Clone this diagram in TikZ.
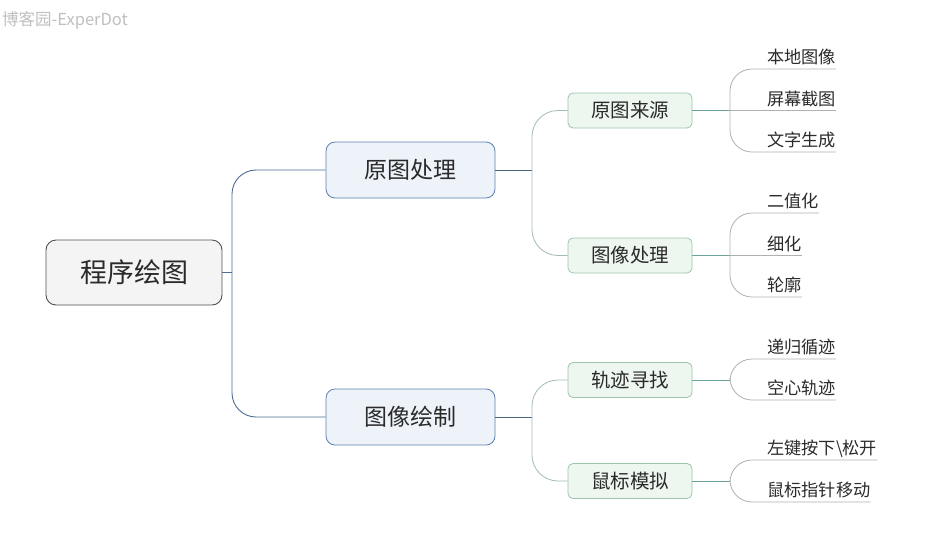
\documentclass[tikz,border=0pt]{standalone}
\usepackage{fontspec}
\newfontfamily\cjk{Noto Sans CJK SC}
\definecolor{rootfill}{HTML}{F4F4F4}
\definecolor{rootline}{HTML}{505050}
\definecolor{topicfill}{HTML}{EEF3FA}
\definecolor{topicline}{HTML}{5A7FAE}
\definecolor{subfill}{HTML}{EEF6F0}
\definecolor{subline}{HTML}{9CC5AA}
\definecolor{trunkcol}{HTML}{4D6D91}
\definecolor{stemcol}{HTML}{4A6580}
\definecolor{limbcol}{HTML}{A3BBB2}
\definecolor{tealcol}{HTML}{6AA39A}
\definecolor{twigcol}{HTML}{B0B0B0}
\definecolor{inkcol}{HTML}{2A2A2A}
\begin{document}
\begin{tikzpicture}[
        x=1pt, y=-1pt,
        every node/.style={font=\cjk, text=inkcol},
        root/.style={rectangle, rounded corners=10pt, draw=rootline, fill=rootfill, line width=0.9pt, minimum width=176pt, minimum height=65pt, font=\cjk\fontsize{27}{32}\selectfont},
        topic/.style={rectangle, rounded corners=9pt, draw=topicline, fill=topicfill, line width=0.8pt, minimum width=169pt, minimum height=56pt, font=\cjk\fontsize{23}{28}\selectfont},
        subtopic/.style={rectangle, rounded corners=5pt, draw=subline, fill=subfill, line width=0.8pt, minimum width=124pt, minimum height=35pt, font=\cjk\fontsize{19.5}{23}\selectfont},
        leaf/.style={anchor=south west, inner xsep=0pt, inner ysep=2.5pt, text height=1em, text depth=0.25em, font=\cjk\fontsize{17.2}{21}\selectfont},
        trunk/.style={draw=trunkcol, line width=0.9pt, rounded corners=24pt},
        stem/.style={draw=stemcol, line width=0.9pt},
        limb/.style={draw=limbcol, line width=0.8pt, rounded corners=26pt},
        tealline/.style={draw=tealcol, line width=0.8pt},
        twig/.style={draw=twigcol, line width=0.8pt, rounded corners=22pt}
        ]
      \useasboundingbox (0,0) rectangle (936,547);
      \node[anchor=west, text=black!25, font=\cjk\fontsize{16.5}{19}\selectfont, inner sep=0pt] (mark) at (2,20) {博客园-ExperDot};

      \node[root] (root) at (134,272.5) {程序绘图};
      \node[topic] (src) at (410.5,170) {原图处理};
      \node[topic] (paint) at (410.5,417) {图像绘制};
      \node[subtopic] (orig) at (630,110.5) {原图来源};
      \node[subtopic] (proc) at (630,255.5) {图像处理};
      \node[subtopic] (track) at (630,380) {轨迹寻找};
      \node[subtopic] (mouse) at (630,481) {鼠标模拟};

      \node[leaf] (l1) at (767,69) {本地图像};
      \node[leaf] (l2) at (767,110.5) {屏幕截图};
      \node[leaf] (l3) at (767,152) {文字生成};
      \node[leaf] (l4) at (767,213) {二值化};
      \node[leaf] (l5) at (767,255.5) {细化};
      \node[leaf] (l6) at (767,297) {轮廓};
      \node[leaf] (l7) at (767,359) {递归循迹};
      \node[leaf] (l8) at (767,400) {空心轨迹};
      \node[leaf] (l9) at (767,460) {左键按下\textbackslash 松开};
      \node[leaf] (l10) at (767,502) {鼠标指针移动};

      % joints
      \coordinate (jr) at (232,272.5);
      \coordinate (js) at (532,170);
      \coordinate (jd) at (532,417);
      \coordinate (jo) at (730,110.5);
      \coordinate (jp) at (730,255.5);
      \coordinate (jt) at (730,380);
      \coordinate (jm) at (730,481);

      \draw[trunk] (root.east) -- (jr);
      \draw[trunk] (jr) |- (src.west);
      \draw[trunk] (jr) |- (paint.west);

      \draw[stem] (src.east) -- (js);
      \draw[stem] (paint.east) -- (jd);
      \draw[limb] (js) |- (orig.west);
      \draw[limb] (js) |- (proc.west);
      \draw[limb] (jd) |- (track.west);
      \draw[limb] (jd) |- (mouse.west);

      \draw[tealline] (orig.east) -- (jo);
      \draw[tealline] (proc.east) -- (jp);
      \draw[tealline] (track.east) -- (jt);
      \draw[tealline] (mouse.east) -- (jm);

      \draw[twig] (jo) |- (l1.south east);
      \draw[twig] (jo) -- (l2.south east);
      \draw[twig] (jo) |- (l3.south east);
      \draw[twig] (jp) |- (l4.south east);
      \draw[twig] (jp) -- (l5.south east);
      \draw[twig] (jp) |- (l6.south east);
      \draw[twig] (jt) |- (l7.south east);
      \draw[twig] (jt) |- (l8.south east);
      \draw[twig] (jm) |- (l9.south east);
      \draw[twig] (jm) |- (l10.south east);

    \end{tikzpicture}
\end{document}
